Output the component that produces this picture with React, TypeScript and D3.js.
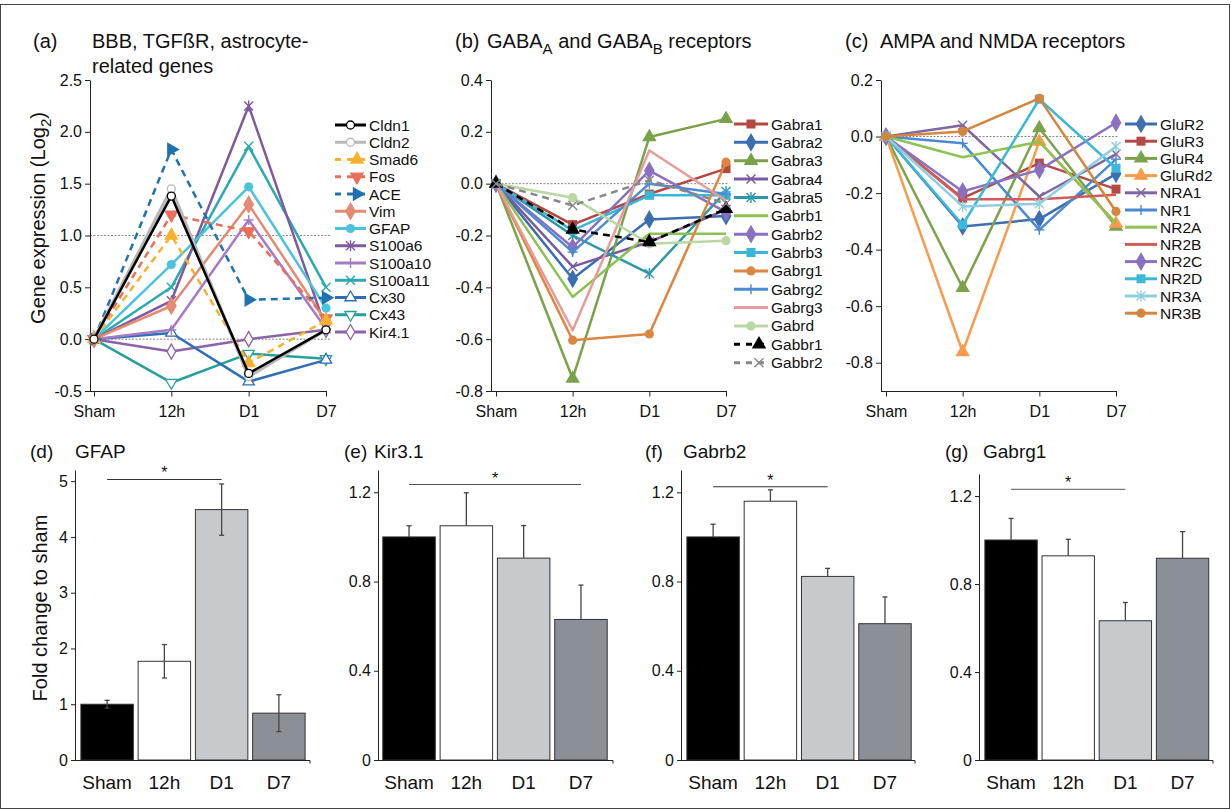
import React, { useEffect, useRef } from 'react';
import * as d3 from 'd3';

const FONT = "'Liberation Sans', Arial, Helvetica, sans-serif";
const timepoints = ['Sham', '12h', 'D1', 'D7'];

// (a) BBB, TGFbR, astrocyte-related genes
const genesA = ['Cldn1', 'Cldn2', 'Smad6', 'Fos', 'ACE', 'Vim', 'GFAP', 'S100a6', 'S100a10', 'S100a11', 'Cx30', 'Cx43', 'Kir4.1'];
const valuesA = [
  [0, 1.38, -0.33, 0.09],
  [0, 1.45, -0.36, 0.09],
  [0, 1.0, -0.23, 0.18],
  [0, 1.2, 1.04, 0.2],
  [0, 1.83, 0.38, 0.4],
  [0, 0.32, 1.3, 0.17],
  [0, 0.72, 1.47, 0.3],
  [0, 0.37, 2.25, 0.1],
  [0, 0.09, 1.15, 0.1],
  [0, 0.5, 1.86, 0.5],
  [0, 0.06, -0.41, -0.2],
  [0, -0.42, -0.14, -0.19],
  [0, -0.12, 0.0, 0.09],
];
const colorsA = ['#000000', '#b8b8b8', '#f7b12e', '#e8705a', '#1f72b0', '#e58a73', '#4cc3dc', '#7f5a9c', '#a57bc6', '#2aaab0', '#2f6db4', '#26a09b', '#8c62a8'];
const markersA = ['circleOpen', 'circleOpen', 'triUp', 'triDown', 'triRight', 'diamond', 'circle', 'asterisk', 'plus', 'x', 'triUpOpen', 'triDownOpen', 'diamondOpen'];
const dashedA = ['Smad6', 'Fos', 'ACE'];

// (b) GABA-A and GABA-B receptors
const genesB = ['Gabra1', 'Gabra2', 'Gabra3', 'Gabra4', 'Gabra5', 'Gabrb1', 'Gabrb2', 'Gabrb3', 'Gabrg1', 'Gabrg2', 'Gabrg3', 'Gabrd', 'Gabbr1', 'Gabbr2'];
const valuesB = [
  [0, -0.158, -0.04, 0.058],
  [0, -0.367, -0.138, -0.125],
  [0, -0.752, 0.18, 0.25],
  [0, -0.32, -0.225, -0.1],
  [0, -0.2, -0.347, -0.03],
  [0, -0.437, -0.193, -0.193],
  [0, -0.245, 0.05, -0.11],
  [0, -0.18, -0.045, -0.045],
  [0, -0.604, -0.58, 0.083],
  [0, -0.264, 0.0, -0.04],
  [0, -0.566, 0.128, -0.065],
  [0, -0.054, -0.232, -0.22],
  [0, -0.177, -0.225, -0.097],
  [0, -0.084, 0.013, -0.077],
];
const colorsB = ['#b5473f', '#3b6eaf', '#79a24a', '#7a5b9c', '#2e98ab', '#8cc152', '#8a70c0', '#39b6d6', '#dd8640', '#4a8bd2', '#e79c9c', '#b9d7a3', '#000000', '#888888'];
const markersB = ['square', 'diamond', 'triUp', 'x', 'asterisk', 'none', 'diamond', 'square', 'circle', 'plus', 'none', 'circle', 'triUp', 'x'];
const dashedB = ['Gabbr1', 'Gabbr2'];

// (c) AMPA and NMDA receptors
const genesC = ['GluR2', 'GluR3', 'GluR4', 'GluRd2', 'NRA1', 'NR1', 'NR2A', 'NR2B', 'NR2C', 'NR2D', 'NR3A', 'NR3B'];
const valuesC = [
  [0, -0.318, -0.292, -0.132],
  [0, -0.218, -0.094, -0.186],
  [0, -0.535, 0.03, -0.318],
  [0, -0.762, -0.018, -0.308],
  [0, 0.04, -0.212, -0.062],
  [0, -0.024, -0.33, -0.08],
  [0, -0.073, -0.018, -0.306],
  [0, -0.222, -0.222, -0.206],
  [0, -0.194, -0.118, 0.049],
  [0, -0.312, 0.132, -0.112],
  [0, -0.247, -0.238, -0.035],
  [0, 0.018, 0.135, -0.265],
];
const colorsC = ['#3f6fae', '#b34a45', '#7da24c', '#f99b4c', '#7e66a1', '#4b89d0', '#8ec253', '#d05d5a', '#8b70c2', '#3cb8d8', '#8fcde0', '#d4863d'];
const markersC = ['diamond', 'square', 'triUp', 'triUp', 'x', 'plus', 'none', 'none', 'diamond', 'square', 'asterisk', 'circle'];

// (d)-(g) fold change bars
const barColors = ['#000000', '#ffffff', '#c6cacd', '#8b8f96'];
const gfapVals = [1.0, 1.77, 4.49, 0.84];
const gfapErr = [0.07, 0.3, 0.46, 0.33];
const kir31Vals = [1.0, 1.05, 0.905, 0.63];
const kir31Err = [0.05, 0.148, 0.146, 0.154];
const gabrb2Vals = [1.0, 1.16, 0.823, 0.611];
const gabrb2Err = [0.057, 0.051, 0.036, 0.12];
const gabrg1Vals = [1.0, 0.928, 0.633, 0.917];
const gabrg1Err = [0.098, 0.075, 0.083, 0.121];

function marker(g: any, type: string, x: number, y: number, color: string) {
  const sym = (t: any, size: number, rot: number, fill: string) =>
    g.append('path')
      .attr('d', d3.symbol(t, size)())
      .attr('transform', `translate(${x},${y}) rotate(${rot})`)
      .attr('fill', fill)
      .attr('stroke', color)
      .attr('stroke-width', 1.3);
  const seg = (x1: number, y1: number, x2: number, y2: number) =>
    g.append('line').attr('x1', x + x1).attr('y1', y + y1).attr('x2', x + x2).attr('y2', y + y2)
      .attr('stroke', color).attr('stroke-width', 1.4);
  switch (type) {
    case 'circle':
      g.append('circle').attr('cx', x).attr('cy', y).attr('r', 4.6).attr('fill', color);
      break;
    case 'circleOpen':
      g.append('circle').attr('cx', x).attr('cy', y).attr('r', 4).attr('fill', '#fff').attr('stroke', color).attr('stroke-width', 1.3);
      break;
    case 'square':
      g.append('rect').attr('x', x - 4.5).attr('y', y - 4.5).attr('width', 9).attr('height', 9).attr('fill', color);
      break;
    case 'diamond':
      sym(d3.symbolDiamond, 75, 0, color);
      break;
    case 'diamondOpen':
      sym(d3.symbolDiamond, 65, 0, '#fff');
      break;
    case 'triUp':
      sym(d3.symbolTriangle, 65, 0, color);
      break;
    case 'triDown':
      sym(d3.symbolTriangle, 65, 180, color);
      break;
    case 'triRight':
      sym(d3.symbolTriangle, 65, 90, color);
      break;
    case 'triUpOpen':
      sym(d3.symbolTriangle, 55, 0, '#fff');
      break;
    case 'triDownOpen':
      sym(d3.symbolTriangle, 55, 180, '#fff');
      break;
    case 'x':
      seg(-4.5, -4.5, 4.5, 4.5);
      seg(-4.5, 4.5, 4.5, -4.5);
      break;
    case 'plus':
      seg(-5, 0, 5, 0);
      seg(0, -5, 0, 5);
      break;
    case 'asterisk':
      seg(-4.5, -4.5, 4.5, 4.5);
      seg(-4.5, 4.5, 4.5, -4.5);
      seg(0, -5.5, 0, 5.5);
      break;
    default:
      break;
  }
}

function styleAxis(ax: any, size: number) {
  ax.attr('font-family', FONT).attr('font-size', size);
  ax.selectAll('text').attr('fill', '#111');
  ax.selectAll('line').attr('stroke', '#222');
  ax.selectAll('path').attr('stroke', '#222');
}

function linePanel(svg: any, p: any) {
  const x = d3.scalePoint().domain(timepoints).range(p.xRange);
  const y = d3.scaleLinear().domain(p.domain).range([391, 80]);
  const g = svg.append('g');

  p.refs.forEach((r: number) => {
    g.append('line').attr('x1', p.axisX).attr('x2', p.refEnd).attr('y1', y(r)).attr('y2', y(r))
      .attr('stroke', '#888').attr('stroke-width', 1).attr('stroke-dasharray', '2,1.5');
  });

  const ya = g.append('g').attr('transform', `translate(${p.axisX},0)`)
    .call(d3.axisLeft(y).tickValues(p.ticks).tickFormat((d: any) => (+d).toFixed(1)).tickSize(5).tickSizeOuter(0).tickPadding(3));
  styleAxis(ya, 16);

  g.append('line').attr('x1', p.axisX).attr('x2', p.xRange[1] + 1).attr('y1', 391.5).attr('y2', 391.5)
    .attr('stroke', '#222').attr('stroke-width', 1);
  const xa = g.append('g').attr('transform', 'translate(0,391.5)')
    .call(d3.axisBottom(x).tickSize(5).tickPadding(9));
  xa.select('.domain').remove();
  styleAxis(xa, 16);

  const line = d3.line<number>().x((_, i) => x(timepoints[i]) as number).y(d => y(d));
  const order = p.reverse ? p.names.map((_: any, i: number) => p.names.length - 1 - i) : p.names.map((_: any, i: number) => i);
  order.forEach((i: number) => {
    const dashed = p.dashed.includes(p.names[i]);
    g.append('path').attr('d', line(p.values[i])).attr('fill', 'none')
      .attr('stroke', p.colors[i]).attr('stroke-width', p.names[i] === 'Cldn2' ? 3.5 : 2.5)
      .attr('stroke-dasharray', dashed ? '7,5' : null)
      .attr('stroke-linejoin', 'round');
    p.values[i].forEach((v: number, j: number) => marker(g, p.markers[i], x(timepoints[j]) as number, y(v), p.colors[i]));
  });

  // legend
  const lg = svg.append('g').attr('font-family', FONT).attr('font-size', 15.5);
  p.names.forEach((n: string, i: number) => {
    const ly = p.leg.y0 + i * p.leg.dy;
    const dashed = p.dashed.includes(n);
    lg.append('line').attr('x1', p.leg.x1).attr('x2', p.leg.x2).attr('y1', ly).attr('y2', ly)
      .attr('stroke', p.colors[i]).attr('stroke-width', 3)
      .attr('stroke-dasharray', dashed ? '6,6' : null);
    marker(lg, p.markers[i], dashed ? p.leg.x2 - 9 : (p.leg.x1 + p.leg.x2) / 2, ly, p.colors[i]);
    lg.append('text').attr('x', p.leg.tx).attr('y', ly + 5.5).attr('fill', '#111').text(n);
  });
}

function barPanel(svg: any, p: any) {
  const x = d3.scaleBand().domain(timepoints).range(p.xRange).paddingInner(0.084).paddingOuter(0.04);
  const y = d3.scaleLinear().domain([0, p.yMax]).range([760, p.yTop]);
  const g = svg.append('g');

  g.selectAll('rect.bar').data(p.values).enter().append('rect')
    .attr('x', (_: any, i: number) => x(timepoints[i]))
    .attr('y', (d: number) => y(d))
    .attr('width', x.bandwidth())
    .attr('height', (d: number) => 760 - y(d))
    .attr('fill', (_: any, i: number) => barColors[i])
    .attr('stroke', '#333').attr('stroke-width', 1);

  p.values.forEach((v: number, i: number) => {
    const cx = (x(timepoints[i]) as number) + x.bandwidth() / 2;
    const lo = p.both ? v - p.err[i] : v;
    const hi = v + p.err[i];
    g.append('line').attr('x1', cx).attr('x2', cx).attr('y1', y(lo)).attr('y2', y(hi)).attr('stroke', '#444').attr('stroke-width', 1.3);
    g.append('line').attr('x1', cx - 2.5).attr('x2', cx + 2.5).attr('y1', y(hi)).attr('y2', y(hi)).attr('stroke', '#444').attr('stroke-width', 1.3);
    if (p.both) g.append('line').attr('x1', cx - 2.5).attr('x2', cx + 2.5).attr('y1', y(lo)).attr('y2', y(lo)).attr('stroke', '#444').attr('stroke-width', 1.3);
  });

  const ya = g.append('g').attr('transform', `translate(${p.axisX},0)`)
    .call(d3.axisLeft(y).tickValues(p.ticks).tickFormat((d: any) => (+d === 0 ? '0' : p.fmt(+d))).tickSize(4).tickSizeOuter(0).tickPadding(3));
  styleAxis(ya, 16);
  g.append('line').attr('x1', p.axisX).attr('x2', p.xEnd).attr('y1', 760.5).attr('y2', 760.5).attr('stroke', '#222');
  g.append('line').attr('x1', p.xEnd).attr('x2', p.xEnd).attr('y1', 760.5).attr('y2', 763.5).attr('stroke', '#222');

  g.selectAll('text.xl').data(timepoints).enter().append('text')
    .attr('x', (d: string) => (x(d) as number) + x.bandwidth() / 2)
    .attr('y', 789).attr('text-anchor', 'middle')
    .attr('font-family', FONT).attr('font-size', 19).attr('fill', '#111')
    .text((d: string) => d);

  // significance
  const s0 = (x(p.sig[0]) as number) + x.bandwidth() / 2;
  const s1 = (x(p.sig[1]) as number) + x.bandwidth() / 2;
  g.append('line').attr('x1', s0).attr('x2', s1).attr('y1', y(p.sigLevel)).attr('y2', y(p.sigLevel))
    .attr('stroke', p.sigColor).attr('stroke-width', 1.2);
  g.append('text').attr('x', (s0 + s1) / 2).attr('y', y(p.sigLevel) - 1).attr('text-anchor', 'middle')
    .attr('font-family', FONT).attr('font-size', 16).attr('fill', '#111').text('*');

  const t = svg.append('text').attr('font-family', FONT).attr('font-size', 19).attr('fill', '#111').attr('y', 458);
  t.append('tspan').attr('x', p.titleX[0]).text(p.label);
  t.append('tspan').attr('x', p.titleX[1]).text(p.title);
}

export default function App() {
  const ref = useRef<SVGSVGElement>(null);

  useEffect(() => {
    const svg = d3.select(ref.current);
    svg.selectAll('*').remove();

    svg.append('rect').attr('x', 0.5).attr('y', 4.5).attr('width', 1229).attr('height', 804)
      .attr('fill', '#fff').attr('stroke', '#444').attr('stroke-width', 1);

    linePanel(svg, {
      names: genesA, values: valuesA, colors: colorsA, markers: markersA, dashed: dashedA, reverse: true,
      axisX: 90, xRange: [94, 326], domain: [-0.5, 2.5], ticks: [-0.5, 0, 0.5, 1, 1.5, 2, 2.5],
      refs: [0, 1], refEnd: 331,
      leg: { x1: 335, x2: 366, tx: 369, y0: 125, dy: 17.25 },
    });
    linePanel(svg, {
      names: genesB, values: valuesB, colors: colorsB, markers: markersB, dashed: dashedB, reverse: false,
      axisX: 491, xRange: [496, 726], domain: [-0.8, 0.4], ticks: [-0.8, -0.6, -0.4, -0.2, 0, 0.2, 0.4],
      refs: [0], refEnd: 728,
      leg: { x1: 734, x2: 768, tx: 771, y0: 124, dy: 18.36 },
    });
    linePanel(svg, {
      names: genesC, values: valuesC, colors: colorsC, markers: markersC, dashed: [], reverse: false,
      axisX: 881, xRange: [886, 1116], domain: [-0.9, 0.2], ticks: [-0.8, -0.6, -0.4, -0.2, 0, 0.2],
      refs: [0], refEnd: 1118,
      leg: { x1: 1125, x2: 1157, tx: 1160, y0: 124, dy: 17.2 },
    });

    // titles of top row
    const ta = svg.append('g').attr('font-family', FONT).attr('font-size', 20).attr('fill', '#111');
    ta.append('text').attr('x', 33).attr('y', 48).text('(a)');
    ta.append('text').attr('x', 92).attr('y', 48).text('BBB, TGFßR, astrocyte-');
    ta.append('text').attr('x', 92).attr('y', 73).text('related genes');
    ta.append('text').attr('x', 455).attr('y', 48).text('(b)');
    const tb = ta.append('text').attr('x', 487).attr('y', 48);
    tb.append('tspan').text('GABA');
    tb.append('tspan').attr('dy', 6).attr('font-size', 15).text('A');
    tb.append('tspan').attr('dy', -6).text(' and GABA');
    tb.append('tspan').attr('dy', 6).attr('font-size', 15).text('B');
    tb.append('tspan').attr('dy', -6).text(' receptors');
    ta.append('text').attr('x', 845).attr('y', 48).text('(c)');
    ta.append('text').attr('x', 880).attr('y', 48).text('AMPA and NMDA receptors');

    const yl = svg.append('text').attr('font-family', FONT).attr('font-size', 20).attr('fill', '#111')
      .attr('text-anchor', 'middle').attr('transform', 'translate(45,218) rotate(-90)');
    yl.append('tspan').text('Gene expression (Log');
    yl.append('tspan').attr('dy', 6).attr('font-size', 15).text('2');
    yl.append('tspan').attr('dy', -6).text(')');

    svg.append('text').attr('font-family', FONT).attr('font-size', 20).attr('fill', '#111')
      .attr('text-anchor', 'middle').attr('transform', 'translate(47,608) rotate(-90)')
      .text('Fold change to sham');

    const fmt1 = (d: number) => d.toFixed(1);
    const fmt0 = (d: number) => d.toFixed(0);
    barPanel(svg, {
      values: gfapVals, err: gfapErr, both: true, axisX: 75, xRange: [78.6, 307.4], xEnd: 310,
      yMax: 5.2, yTop: 470, ticks: [0, 1, 2, 3, 4, 5], fmt: fmt0,
      sig: ['Sham', 'D1'], sigLevel: 5.03, sigColor: '#333',
      label: '(d)', title: 'GFAP', titleX: [30, 75],
    });
    barPanel(svg, {
      values: kir31Vals, err: kir31Err, both: false, axisX: 378, xRange: [380.5, 609.5], xEnd: 613,
      yMax: 1.3, yTop: 470, ticks: [0, 0.4, 0.8, 1.2], fmt: fmt1,
      sig: ['Sham', 'D7'], sigLevel: 1.235, sigColor: '#555',
      label: '(e)', title: 'Kir3.1', titleX: [344, 374],
    });
    barPanel(svg, {
      values: gabrb2Vals, err: gabrb2Err, both: false, axisX: 681, xRange: [684.6, 913.5], xEnd: 915,
      yMax: 1.3, yTop: 470, ticks: [0, 0.4, 0.8, 1.2], fmt: fmt1,
      sig: ['Sham', 'D1'], sigLevel: 1.225, sigColor: '#333',
      label: '(f)', title: 'Gabrb2', titleX: [645, 683],
    });
    barPanel(svg, {
      values: gabrg1Vals, err: gabrg1Err, both: false, axisX: 979, xRange: [982.6, 1211], xEnd: 1213,
      yMax: 1.3, yTop: 474, ticks: [0, 0.4, 0.8, 1.2], fmt: fmt1,
      sig: ['Sham', 'D1'], sigLevel: 1.23, sigColor: '#777',
      label: '(g)', title: 'Gabrg1', titleX: [945, 983],
    });
  }, []);

  return (
    <svg ref={ref} width={1231} height={809} style={{ position: 'absolute', left: 0, top: 0, background: '#fff' }} />
  );
}
